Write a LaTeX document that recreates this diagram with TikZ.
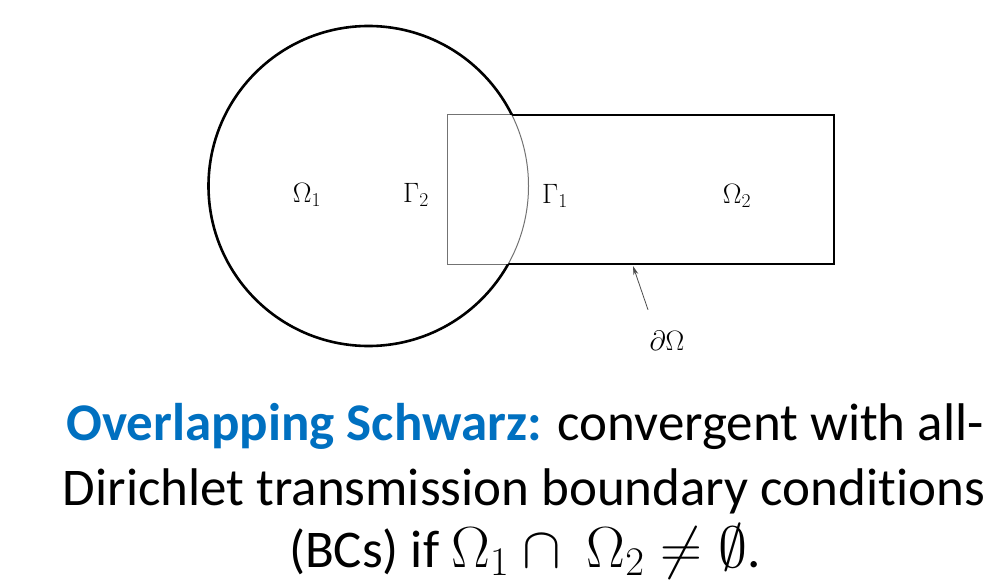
\RequirePackage{fix-cm}
\documentclass[tikz,border=0pt]{standalone}
\usepackage{fontspec}
\setmainfont{Carlito}[Ligatures=NoCommon]
\usetikzlibrary{arrows.meta,positioning}
\definecolor{schwarzblue}{HTML}{0070C0}

\begin{document}
\begin{tikzpicture}[x=1pt,y=-1pt,
thick line/.style={line width=2.6pt,black},
thin line/.style={line width=1pt,black!55},
lbl/.style={font=\fontsize{28}{32}\selectfont},
txt/.style={font=\fontsize{53}{65}\selectfont,anchor=base,inner sep=0pt}]
\useasboundingbox (0,0) rectangle (984,583);
\clip (0,0) rectangle (984,583);
\fill[white] (0,0) rectangle (984,583);
% thin lines in the overlap
\draw[thin line] (368.5,186) circle[radius=160];
\draw[thin line] (447,115) rectangle (834,264);
% thick outer boundary
\begin{scope}[even odd rule]
\clip (0,0) rectangle (984,583) (447,115) rectangle (834,264);
\draw[thick line] (368.5,186) circle[radius=160];
\end{scope}
\begin{scope}[even odd rule]
\clip (0,0) rectangle (984,583) (368.5,186) circle[radius=160];
\draw[thick line] (447,115) rectangle (834,264);
\end{scope}
% labels
\node[lbl] (omega1) at (307,195) {$\Omega_1$};
\node[lbl] (gamma2) at (416,195) {$\Gamma_2$};
\node[lbl] (gamma1) at (555,196) {$\Gamma_1$};
\node[lbl] (omega2) at (737,196) {$\Omega_2$};
\node[lbl] (bdry) at (667,341) {$\partial\Omega$};
\coordinate (tip) at (633,266);
\draw[line width=0.8pt,black!70,-{Stealth[length=9pt,width=5pt]}] ([shift={(-19,-18)}]bdry.north) -- (tip);
% caption text
\node[txt] (line1) at (525,440) {\textcolor{schwarzblue}{\bfseries Overlapping Schwarz:} convergent with all-};
\node[txt] (line2) at (524,505) {Dirichlet transmission boundary conditions};
\node[txt] (line3) at (525,567) {(BCs) if {\fontsize{58}{65}\selectfont$\Omega_1\cap\ \Omega_2\neq\emptyset$}.};
\end{tikzpicture}
\end{document}
